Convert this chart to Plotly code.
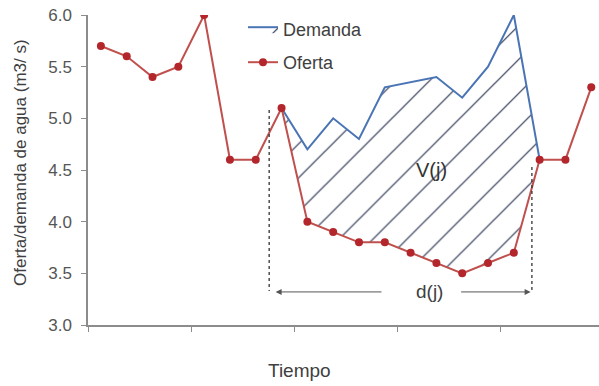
import plotly.graph_objects as go

# ---- data ----
periods = list(range(1, 21))
oferta = [5.7, 5.6, 5.4, 5.5, 6.0, 4.6, 4.6, 5.1, 4.0, 3.9,
          3.8, 3.8, 3.7, 3.6, 3.5, 3.6, 3.7, 4.6, 4.6, 5.3]
deficit_periods = list(range(8, 19))
demanda = [5.1, 4.7, 5.0, 4.8, 5.3, 5.35, 5.4, 5.2, 5.5, 6.0, 4.6]
oferta_deficit = [oferta[p - 1] for p in deficit_periods]

y_ticks = [3.0, 3.5, 4.0, 4.5, 5.0, 5.5, 6.0]
x_tick_bounds = [0.5, 4.5, 8.5, 12.5, 16.5]

# annotation anchors (data units)
d_start, d_end = 7.52, 17.7
d_left_top, d_right_top, d_bottom = 5.08, 4.53, 3.33
arrow_y = 3.32

BLUE = "#4a74b4"
RED = "#c0504d"
MARK = "#b3262b"
TXT = "#404040"
FONT = "Liberation Sans, Arial, sans-serif"

fig = go.Figure()

# hidden lower boundary for the hatched deficit area
fig.add_trace(go.Scatter(
    x=deficit_periods, y=oferta_deficit, mode="lines",
    line=dict(width=0, color="rgba(0,0,0,0)"), showlegend=False, hoverinfo="skip"))

fig.add_trace(go.Scatter(
    x=deficit_periods, y=demanda, mode="lines", name="Demanda",
    line=dict(color=BLUE, width=2),
    fill="tonexty", fillcolor="rgba(0,0,0,0)",
    fillpattern=dict(shape="/", fgcolor="#2a3350", fgopacity=1, bgcolor="rgba(0,0,0,0)",
                     size=24, solidity=0.05),
    legend="legend"))

fig.add_trace(go.Scatter(
    x=periods, y=oferta, mode="lines+markers", name="Oferta",
    line=dict(color=RED, width=2),
    marker=dict(color=MARK, size=8),
    legend="legend2"))

# dashed verticals
fig.add_shape(type="line", x0=d_start, x1=d_start, y0=d_left_top, y1=d_bottom,
              line=dict(color="#333333", width=1.3, dash="dot"))
fig.add_shape(type="line", x0=d_end, x1=d_end, y0=d_right_top, y1=d_bottom,
              line=dict(color="#333333", width=1.3, dash="dot"))

# d(j) arrows
fig.add_annotation(x=d_start + 0.25, y=arrow_y, ax=11.93, ay=arrow_y, axref="x", ayref="y",
                   text="", showarrow=True, arrowhead=2, arrowsize=1.2, arrowwidth=1,
                   arrowcolor="#555555")
fig.add_annotation(x=d_end - 0.05, y=arrow_y, ax=14.9, ay=arrow_y, axref="x", ayref="y",
                   text="", showarrow=True, arrowhead=2, arrowsize=1.2, arrowwidth=1,
                   arrowcolor="#555555")
fig.add_annotation(x=13.75, y=arrow_y, text="d(j)", showarrow=False,
                   font=dict(family=FONT, size=19, color=TXT))
fig.add_annotation(x=13.8, y=4.5, text="V(j)", showarrow=False,
                   font=dict(family=FONT, size=20, color="#333333"))

# axis titles
fig.add_annotation(x=(299 - 88) / 511, y=-(370 - 325) / 310, xref="paper", yref="paper",
                   text="Tiempo", showarrow=False, yanchor="middle",
                   font=dict(family=FONT, size=19, color=TXT))
fig.add_annotation(x=(20 - 88) / 511, y=1 - (163 - 15) / 310, xref="paper", yref="paper",
                   text="Oferta/demanda de agua (m3/ s)", textangle=-90, showarrow=False,
                   xanchor="center", yanchor="middle",
                   font=dict(family=FONT, size=17, color=TXT))

fig.update_layout(
    width=599, height=386,
    margin=dict(l=88, r=0, t=15, b=61),
    plot_bgcolor="white", paper_bgcolor="white",
    font=dict(family=FONT, color=TXT, size=13),
    legend=dict(x=(243 - 88) / 511, y=1 - (11 - 15) / 310, xanchor="left", yanchor="top",
                bgcolor="rgba(0,0,0,0)", font=dict(size=18, color=TXT)),
    legend2=dict(x=(243 - 88) / 511, y=1 - (44 - 15) / 310, xanchor="left", yanchor="top",
                 bgcolor="rgba(0,0,0,0)", font=dict(size=18, color=TXT)),
    xaxis=dict(range=[0.5, 20.3], showgrid=False, zeroline=False,
               showline=True, linecolor="#8c8c8c", linewidth=1.5,
               tickmode="array", tickvals=x_tick_bounds, ticks="outside",
               ticklen=5, tickcolor="#8c8c8c", showticklabels=False),
    yaxis=dict(range=[3.0, 6.0], showgrid=False, zeroline=False,
               showline=True, linecolor="#8c8c8c", linewidth=1.5,
               tickmode="array", tickvals=y_ticks, ticktext=[f"{v:.1f}" for v in y_ticks],
               ticks="outside", ticklen=5, tickcolor="#8c8c8c", ticklabelstandoff=6,
               tickfont=dict(size=17, color="#555555")),
)

fig.write_html("out.html", config={"displayModeBar": False},
               post_script="document.body.style.margin='0';")
